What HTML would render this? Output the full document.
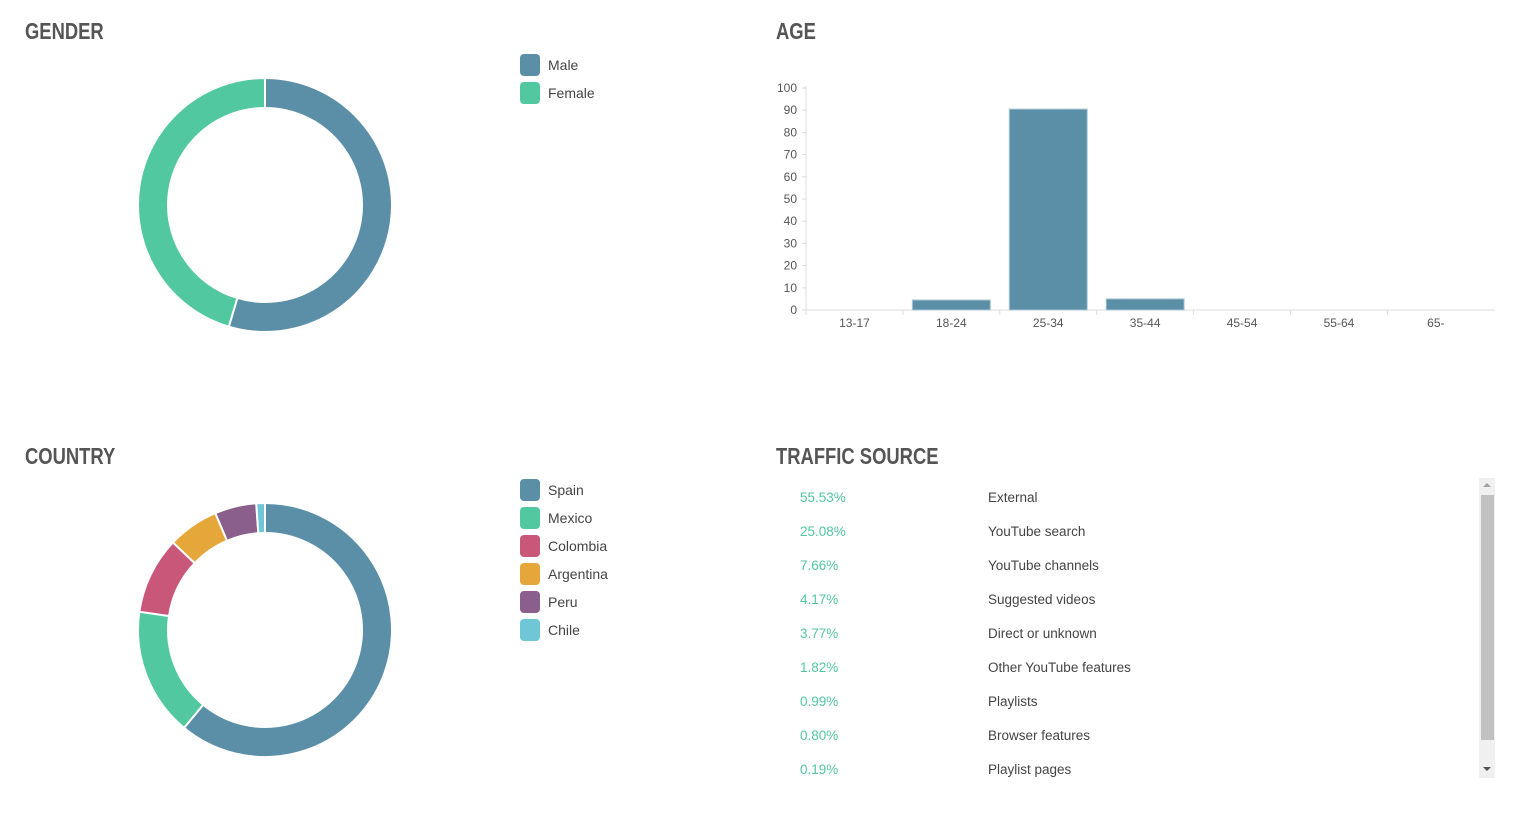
<!DOCTYPE html>
<html><head><meta charset="utf-8"><style>
body{margin:0;width:1532px;height:825px;background:#fff;font-family:"Liberation Sans",sans-serif;overflow:hidden;position:relative}
.title{position:absolute;font-family:"Liberation Sans Narrow","Liberation Sans",sans-serif;font-weight:bold;font-size:23px;color:#555;transform:scaleX(0.8);transform-origin:0 0}
.leg{position:absolute;left:520px;font-size:14px;color:#444}
.leg div{height:28px;display:flex;align-items:center}
.leg span.sw{width:20px;height:22px;border-radius:4px;margin-right:8px;display:inline-block}
.row{position:absolute;left:800px;font-size:13.5px;height:34px}
.row .p{position:absolute;left:0;color:#52c79f}
.row .l{position:absolute;left:188px;width:300px;color:#444}
</style></head><body>
<div class="title" style="left:25px;top:18px">GENDER</div>
<div class="title" style="left:776px;top:18px">AGE</div>
<div class="title" style="left:25px;top:443px">COUNTRY</div>
<div class="title" style="left:776px;top:443px">TRAFFIC SOURCE</div>

<svg id="g" width="300" height="300" style="position:absolute;left:115px;top:55px"></svg>
<svg id="c" width="300" height="300" style="position:absolute;left:115px;top:480px"></svg>
<div class="leg" id="gl" style="top:51px"></div>
<div class="leg" id="cl" style="top:476px"></div>
<svg id="age" width="760" height="260" style="position:absolute;left:760px;top:75px"></svg>

<div id="tl"></div>
<div style="position:absolute;left:1479px;top:478px;width:16px;height:300px;background:#f0f0f0">
<div style="position:absolute;left:4px;top:5px;width:0;height:0;border-left:4px solid transparent;border-right:4px solid transparent;border-bottom:4px solid #a3a3a3"></div>
<div style="position:absolute;left:2px;top:17px;width:13px;height:245px;background:#c1c1c1"></div>
<div style="position:absolute;left:4px;top:289px;width:0;height:0;border-left:4px solid transparent;border-right:4px solid transparent;border-top:4px solid #505050"></div>
</div>
<script>
const genderLabels=["Male","Female"];
const genderValues=[54.6,45.4];
const genderColors=["#5b8fa8","#52c8a0"];
const countryLabels=["Spain","Mexico","Colombia","Argentina","Peru","Chile"];
const countryValues=[61.0,16.3,9.8,6.5,5.3,1.1];
const countryColors=["#5b8fa8","#52c8a0","#c9577a","#e6a73a","#8a5f8c","#6ec6d6"];
const ageCats=["13-17","18-24","25-34","35-44","45-54","55-64","65-"];
const ageValues=[0,4.5,90.5,5,0,0,0];
const ageTicks=[0,10,20,30,40,50,60,70,80,90,100];
const trafficPct=["55.53%","25.08%","7.66%","4.17%","3.77%","1.82%","0.99%","0.80%","0.19%"];
const trafficLabels=["External","YouTube search","YouTube channels","Suggested videos","Direct or unknown","Other YouTube features","Playlists","Browser features","Playlist pages"];
const NS="http://www.w3.org/2000/svg";
function donut(svg,vals,cols,name){
  const cx=150,cy=150,R=127,r=97;let tot=vals.reduce((a,b)=>a+b,0),a0=0;
  vals.forEach((v,i)=>{
    const a1=a0+v/tot*2*Math.PI;
    const p=(ang,rad)=>[cx+rad*Math.sin(ang),cy-rad*Math.cos(ang)];
    const lg=(a1-a0)>Math.PI?1:0;
    const [x0,y0]=p(a0,R),[x1,y1]=p(a1,R),[x2,y2]=p(a1,r),[x3,y3]=p(a0,r);
    const path=document.createElementNS(NS,"path");
    path.setAttribute("d",`M${x0} ${y0}A${R} ${R} 0 ${lg} 1 ${x1} ${y1}L${x2} ${y2}A${r} ${r} 0 ${lg} 0 ${x3} ${y3}Z`);
    path.setAttribute("fill",cols[i]);path.setAttribute("stroke","#fff");path.setAttribute("stroke-width","2");
    
    
    svg.appendChild(path);a0=a1;
  });
}
function legend(el,labels,cols,name){
  labels.forEach((l,i)=>{const d=document.createElement("div");
    d.innerHTML=`<span class="sw" style="background:${cols[i]}"></span>${l}`;
    
    
    el.appendChild(d);});
}
donut(document.getElementById("g"),genderValues,genderColors,"gender");
donut(document.getElementById("c"),countryValues,countryColors,"country");
legend(document.getElementById("gl"),genderLabels,genderColors,"gender");
legend(document.getElementById("cl"),countryLabels,countryColors,"country");
const svg=document.getElementById("age");
const X0=46,X1=735,Y0=235,Y100=13;
const y=v=>Y0-(v/100)*(Y0-Y100);
const bw=96.9;
function el(t,a){const e=document.createElementNS(NS,t);for(const k in a)e.setAttribute(k,a[k]);svg.appendChild(e);return e;}
let ax=el("line",{x1:X0,y1:Y0,x2:X1,y2:Y0,stroke:"#ddd"});


let ay=el("line",{x1:X0,y1:Y100-2,x2:X0,y2:Y0+4,stroke:"#ddd"});


ageTicks.forEach(t=>{
  el("line",{x1:X0-4,y1:y(t),x2:X0,y2:y(t),stroke:"#ddd"});
  const tx=el("text",{x:X0-9,y:y(t)+4,"text-anchor":"end","font-size":"12",fill:"#555"});tx.textContent=t;
  
  
});
ageCats.forEach((c,i)=>{
  const x=X0+i*bw;
  el("line",{x1:x,y1:Y0,x2:x,y2:Y0+5,stroke:"#ddd"});
  const tx=el("text",{x:x+bw/2,y:Y0+17,"text-anchor":"middle","font-size":"12",fill:"#555"});tx.textContent=c;
  
  
  if(ageValues[i]>0){
    const b=el("rect",{x:x+9.5,y:y(ageValues[i]),width:bw-19,height:Y0-y(ageValues[i]),fill:"#5b8fa8",stroke:"#a9c6d3","stroke-width":"1"});
    
    
  }
});
const tl=document.getElementById("tl");
trafficPct.forEach((p,i)=>{
  const r=document.createElement("div");r.className="row";r.style.top=(490+i*34)+"px";
  r.innerHTML=`<span class="p">${p}</span><span class="l">${trafficLabels[i]}</span>`;
  
  
  tl.appendChild(r);
});
</script>
</body></html>
